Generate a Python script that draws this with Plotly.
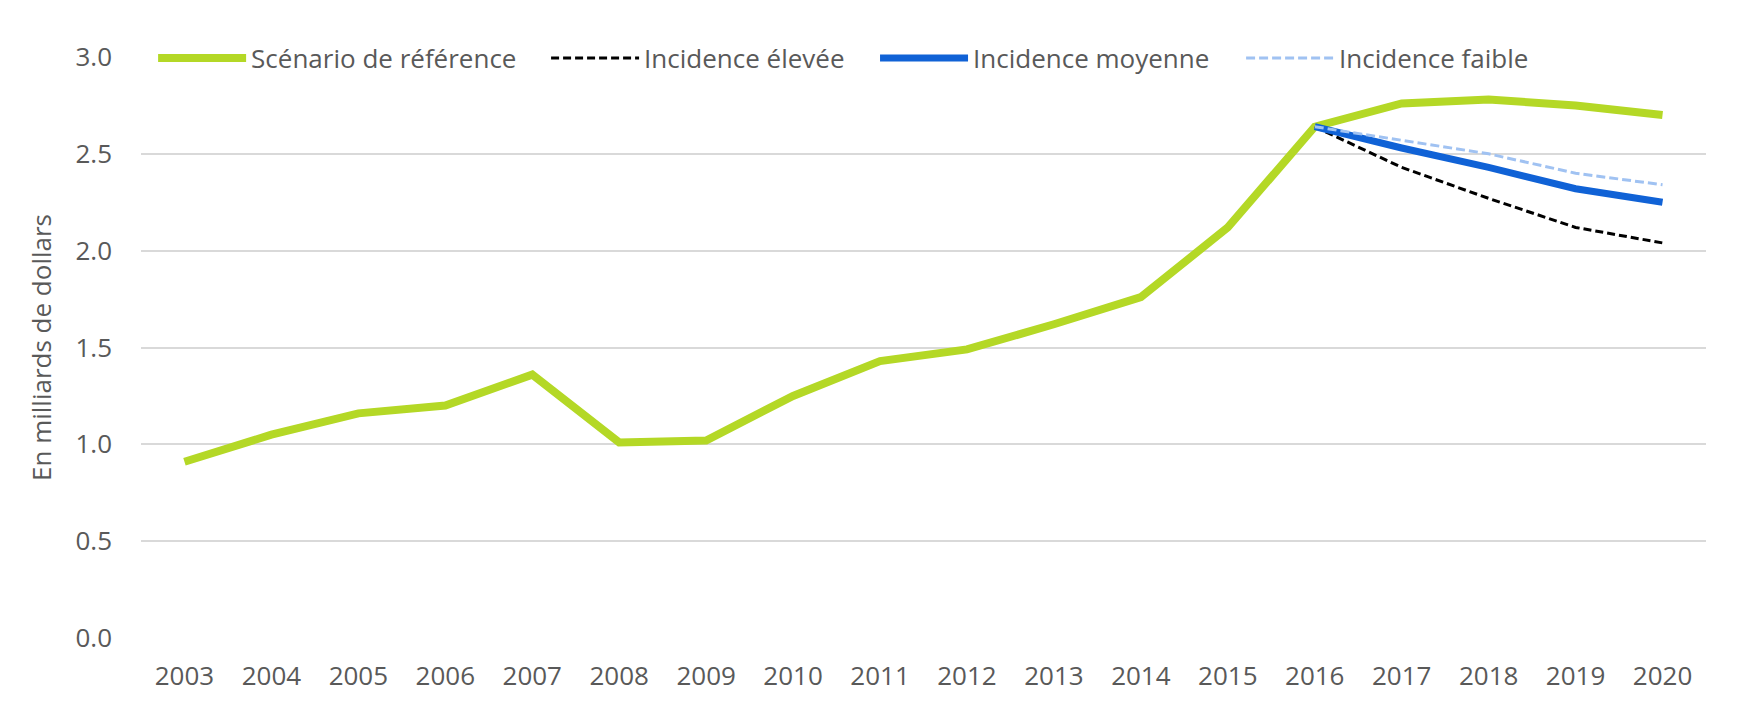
import plotly.graph_objects as go

years = [str(y) for y in range(2003, 2021)]
reference = [0.91, 1.05, 1.16, 1.20, 1.36, 1.01, 1.02, 1.25, 1.43, 1.49,
             1.62, 1.76, 2.12, 2.64, 2.76, 2.78, 2.75, 2.70]
scen_years = ["2016", "2017", "2018", "2019", "2020"]
high = [2.64, 2.43, 2.27, 2.12, 2.04]
medium = [2.64, 2.53, 2.43, 2.32, 2.25]
low = [2.64, 2.57, 2.50, 2.40, 2.34]

names = ["Scénario de référence", "Incidence élevée", "Incidence moyenne", "Incidence faible"]
y_ticks = [0, 0.5, 1.0, 1.5, 2.0, 2.5, 3.0]
y_tick_text = ["0.0", "0.5", "1.0", "1.5", "2.0", "2.5", "3.0"]

FONT = "Open Sans"
TXT = "#595959"

fig = go.Figure()
fig.add_trace(go.Scatter(x=years, y=reference, name=names[0], mode="lines", legend="legend",
                         line=dict(color="#B4D826", width=8)))
fig.add_trace(go.Scatter(x=scen_years, y=high, name=names[1], mode="lines", legend="legend2",
                         line=dict(color="#000000", width=3, dash="8px,4px")))
fig.add_trace(go.Scatter(x=scen_years, y=medium, name=names[2], mode="lines", legend="legend3",
                         line=dict(color="#1062D6", width=7)))
fig.add_trace(go.Scatter(x=scen_years, y=low, name=names[3], mode="lines", legend="legend4",
                         line=dict(color="#A0C2F2", width=3, dash="9px,4px")))


def leg(xpos):
    return dict(orientation="h", x=xpos, xanchor="left", y=0.998, yanchor="middle",
                bgcolor="white", bordercolor="white", borderwidth=6, itemwidth=88,
                font=dict(family=FONT, size=26, color=TXT))


fig.update_layout(
    width=1751, height=701,
    margin=dict(l=133, r=53, t=49, b=71),
    paper_bgcolor="white", plot_bgcolor="white",
    font=dict(family=FONT, size=26, color=TXT),
    showlegend=True,
    legend=leg(0.0039),
    legend2=leg(0.2550),
    legend3=leg(0.4652),
    legend4=leg(0.6991),
    xaxis=dict(type="category", categoryorder="array", categoryarray=years,
               range=[-0.5, len(years) - 0.5],
               showgrid=False, showline=False, zeroline=False, ticks="",
               tickfont=dict(family=FONT, size=26, color=TXT), ticklabelstandoff=20),
    yaxis=dict(range=[0, 3.0], tickvals=y_ticks, ticktext=y_tick_text,
               showgrid=True, gridcolor="#D9D9D9", gridwidth=1.5,
               zeroline=False, showline=False, ticks="",
               tickfont=dict(family=FONT, size=26, color=TXT), ticklabelstandoff=28,
               title=dict(text="En milliards de dollars", standoff=16,
                          font=dict(family=FONT, size=26, color=TXT))),
)

fig.write_html("out.html")
